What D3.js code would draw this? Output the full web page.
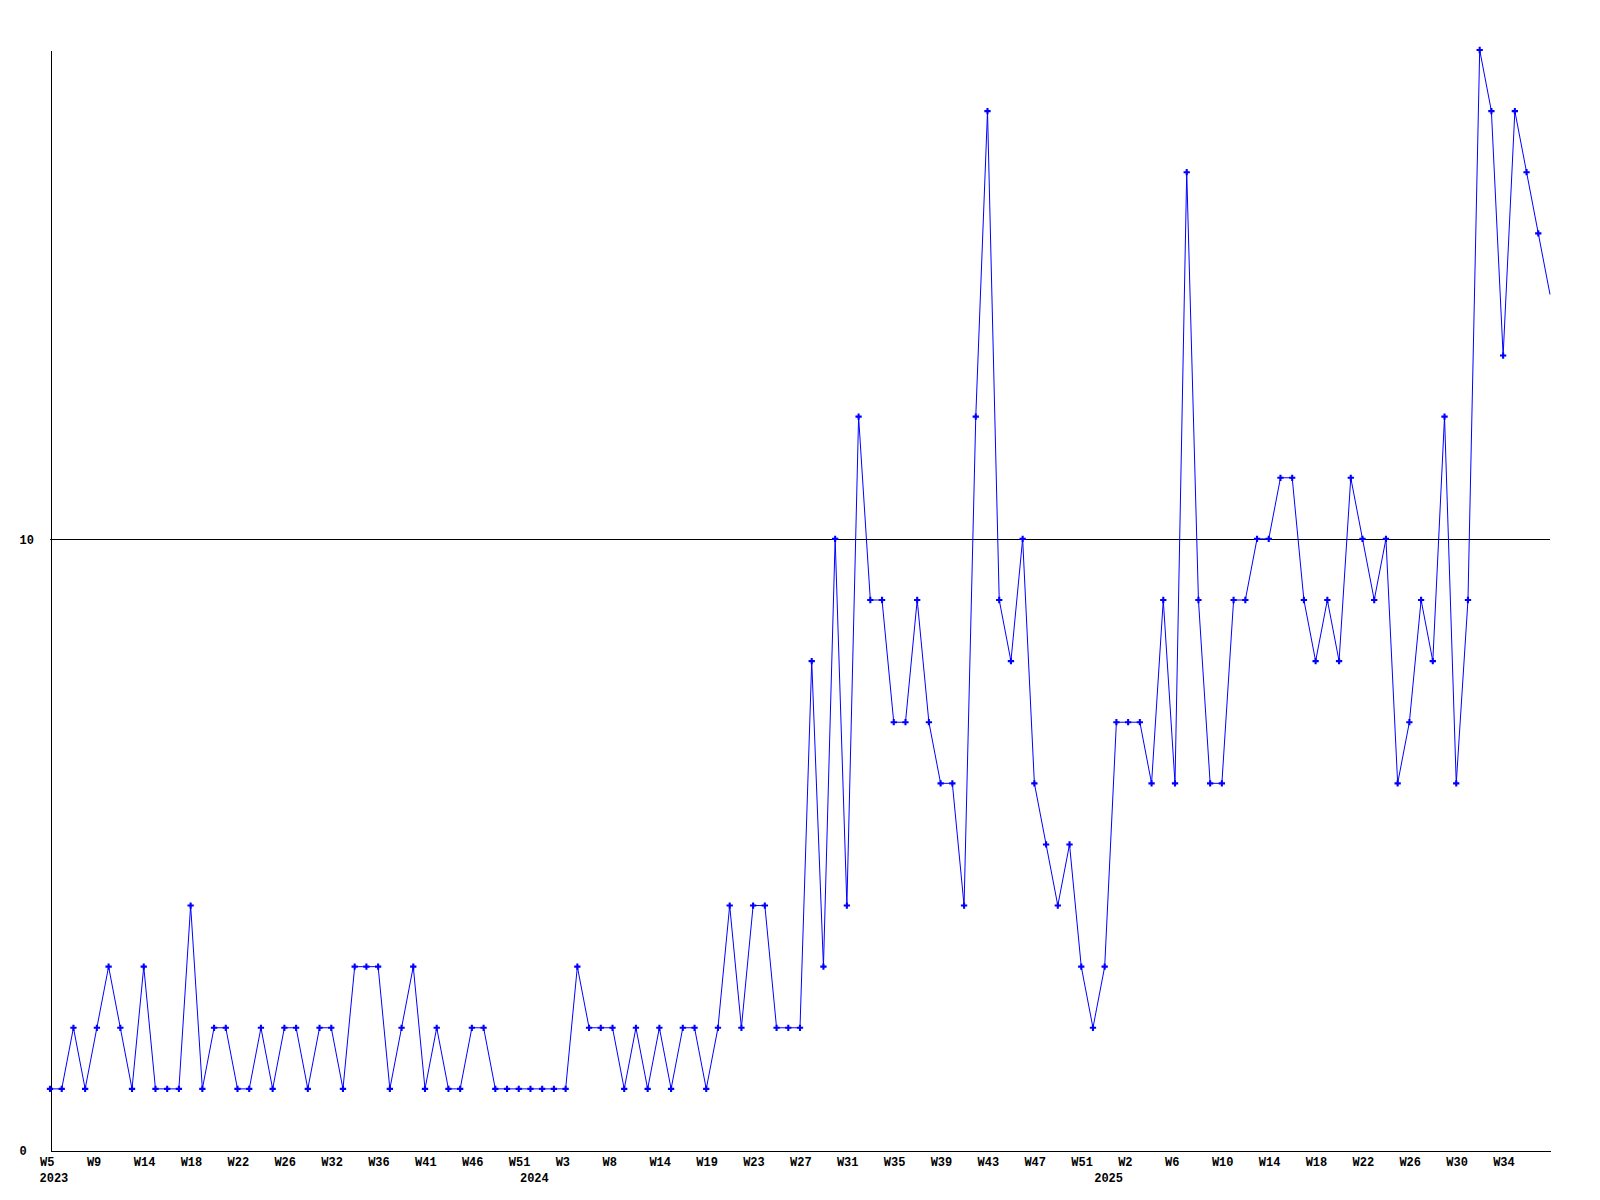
<!DOCTYPE html>
<html>
<head>
<script src="https://d3js.org/d3.v7.min.js"></script>
<style>
  body { margin: 0; background: #fff; }
  text { font-family: "Liberation Mono", "DejaVu Sans Mono", monospace; font-weight: bold; font-size: 12px; fill: #000; }
</style>
</head>
<body>
<svg id="chart" width="1600" height="1200"></svg>
<script>
// weekly counts, one per point
var counts = [1, 1, 2, 1, 2, 3, 2, 1, 3, 1, 1, 1, 4, 1, 2, 2, 1, 1, 2, 1,
              2, 2, 1, 2, 2, 1, 3, 3, 3, 1, 2, 3, 1, 2, 1, 1, 2, 2, 1, 1,
              1, 1, 1, 1, 1, 3, 2, 2, 2, 1, 2, 1, 2, 1, 2, 2, 1, 2, 4, 2,
              4, 4, 2, 2, 2, 8, 3, 10, 4, 12, 9, 9, 7, 7, 9, 7, 6, 6, 4, 12,
              17, 9, 8, 10, 6, 5, 4, 5, 3, 2, 3, 7, 7, 7, 6, 9, 6, 16, 9, 6,
              6, 9, 9, 10, 10, 11, 11, 9, 8, 9, 8, 11, 10, 9, 10, 6, 7, 9, 8, 12,
              6, 9, 18, 17, 13, 17, 16, 15, 14];

// x tick labels, every 4th point
var weekLabels = ["W5", "W9", "W14", "W18", "W22", "W26", "W32", "W36", "W41", "W46", "W51",
                  "W3", "W8", "W14", "W19", "W23", "W27", "W31", "W35", "W39", "W43", "W47", "W51",
                  "W2", "W6", "W10", "W14", "W18", "W22", "W26", "W30", "W34"];
var weekTickIdx = weekLabels.map(function(d, i) { return i * 4; });

var years = ["2023", "2024", "2025"];
var yearIdx = [0, 41, 90];

var yTicks = [0, 10];
var yMax = 18;

var plot = { left: 50, right: 1550, top: 50, bottom: 1150 };

var svg = d3.select("#chart");

var x = d3.scaleLinear().domain([0, counts.length - 1]).range([plot.left, plot.right]);
var y = d3.scaleLinear().domain([0, yMax]).range([plot.bottom, plot.top]);

// grid line at 10
svg.append("line")
    .attr("x1", plot.left).attr("x2", plot.right)
    .attr("y1", Math.round(y(10)) + 0.5).attr("y2", Math.round(y(10)) + 0.5)
    .attr("stroke", "#000")
    .attr("stroke-width", 1);

// axes
var xAxis = d3.axisBottom(x)
    .tickValues(weekTickIdx)
    .tickSize(0)
    .tickSizeOuter(0)
    .tickFormat(function(d, i) { return weekLabels[i]; });

var gx = svg.append("g")
    .attr("transform", "translate(0," + (plot.bottom + 0.5) + ")")
    .call(xAxis);
gx.attr("font-family", null).attr("font-size", null);
gx.select(".domain").attr("stroke", "#000").attr("shape-rendering", "crispEdges");
gx.selectAll("text")
    .attr("text-anchor", "start")
    .attr("dx", -10.5)
    .attr("y", 15.5)
    .attr("dy", 0);

var yAxis = d3.axisLeft(y)
    .tickValues(yTicks)
    .tickSize(0)
    .tickSizeOuter(0)
    .tickFormat(d3.format("d"));

var gy = svg.append("g")
    .attr("transform", "translate(" + (plot.left + 0.5) + ",0)")
    .call(yAxis);
gy.attr("font-family", null).attr("font-size", null);
gy.select(".domain").attr("stroke", "#000").attr("shape-rendering", "crispEdges");
gy.selectAll("text")
    .attr("text-anchor", "start")
    .attr("x", -31)
    .attr("dy", "0.35em");

// year labels
svg.selectAll(".year")
    .data(years)
    .enter().append("text")
    .attr("class", "year")
    .attr("x", function(d, i) { return x(yearIdx[i]) - 10.5; })
    .attr("y", 1182)
    .text(function(d) { return d; });

// series line
var line = d3.line()
    .x(function(d, i) { return x(i); })
    .y(function(d) { return y(d); });

svg.append("path")
    .datum(counts)
    .attr("fill", "none")
    .attr("stroke", "#0000ff")
    .attr("stroke-width", 1)
    .attr("d", line);

// point markers (the last one sits on the plot edge and isn't shown)
var marker = d3.symbol().type(d3.symbolCross).size(22);
svg.selectAll(".pt")
    .data(counts.slice(0, counts.length - 1))
    .enter().append("path")
    .attr("class", "pt")
    .attr("transform", function(d, i) { return "translate(" + x(i) + "," + y(d) + ")"; })
    .attr("d", marker)
    .attr("fill", "#0000ff");
</script>
</body>
</html>
